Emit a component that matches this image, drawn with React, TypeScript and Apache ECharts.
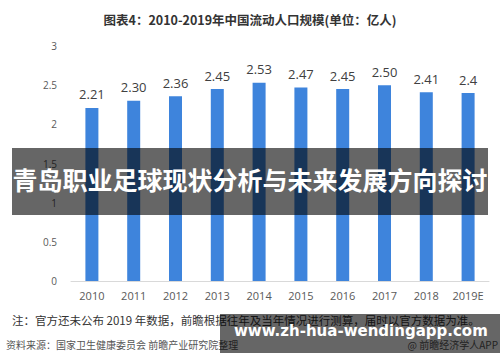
import React, { useEffect, useRef } from "react";
import * as echarts from "echarts";

const categories = ["2010", "2011", "2012", "2013", "2014", "2015", "2016", "2017", "2018", "2019E"];
const values = [2.21, 2.3, 2.36, 2.45, 2.53, 2.47, 2.45, 2.5, 2.41, 2.4];
const valueLabels = ["2.21", "2.30", "2.36", "2.45", "2.53", "2.47", "2.45", "2.50", "2.41", "2.4"];
const yTicks = [0, 0.5, 1, 1.5, 2, 2.5, 3];

const titleText = "图表4：2010-2019年中国流动人口规模(单位：亿人)";
const overlayText = "青岛职业足球现状分析与未来发展方向探讨";
const noteText = "注：官方还未公布 2019 年数据，前瞻根据往年及当年情况进行测算，届时以官方数据为准。";
const sourceText = "资料来源：国家卫生健康委员会 前瞻产业研究院整理";
const creditText = "@ 前瞻经济学人APP";
const urlText = "www.zh-hua-wendingapp.com";

export default function App() {
  const ref = useRef<HTMLDivElement>(null);
  useEffect(() => {
    if (!ref.current) return;
    const chart = echarts.init(ref.current, null, { renderer: "svg" });
    const font = '"Noto Sans CJK SC", "Open Sans", sans-serif';
    chart.setOption({
      animation: false,
      backgroundColor: "#ffffff",
      title: {
        text: titleText,
        left: "center",
        top: 8,
        textStyle: { fontSize: 12.5, fontWeight: "bold", color: "#333333", fontFamily: font },
      },
      grid: { left: 71, right: 11, top: 46, bottom: 81 },
      xAxis: {
        type: "category",
        data: categories,
        axisLine: { lineStyle: { color: "#d9d9d9" } },
        axisTick: { show: false },
        axisLabel: { color: "#595959", fontSize: 11, margin: 9, fontFamily: '"Open Sans", sans-serif' },
      },
      yAxis: {
        type: "value",
        min: 0,
        max: 3,
        interval: 0.5,
        axisLine: { show: false },
        axisTick: { show: false },
        splitLine: { show: false },
        axisLabel: {
          color: "#595959",
          fontSize: 10,
          margin: 14,
          fontFamily: '"Open Sans", sans-serif',
          formatter: (v: number) => (yTicks.includes(v) ? String(v) : ""),
        },
      },
      series: [
        {
          type: "bar",
          data: values,
          barWidth: 13,
          itemStyle: { color: "#3e84dc" },
          label: {
            show: true,
            position: "top",
            distance: 7,
            color: "#404040",
            fontSize: 13,
            fontFamily: '"Open Sans", sans-serif',
            formatter: (p: any) => valueLabels[p.dataIndex],
          },
        },
      ],
      graphic: [
        {
          type: "rect",
          left: 12,
          top: 148,
          shape: { width: 476, height: 67 },
          style: { fill: "rgba(0,0,0,0.6)" },
          z: 100,
        },
        {
          type: "text",
          left: "center",
          top: 166,
          style: {
            text: overlayText,
            fill: "#ffffff",
            font: `bold 25px ${font}`,
          },
          z: 101,
        },
        {
          type: "text",
          left: 12,
          top: 314,
          style: { text: noteText, fill: "#333333", font: `11.5px ${font}` },
          z: 50,
        },
        {
          type: "text",
          left: 6,
          top: 339,
          style: { text: sourceText, fill: "#555555", font: `10px ${font}` },
          z: 50,
        },
        {
          type: "text",
          right: 2,
          top: 339,
          style: { text: creditText, fill: "#555555", font: `10px ${font}` },
          z: 50,
        },
        {
          type: "rect",
          left: 220,
          top: 314,
          shape: { width: 280, height: 39 },
          style: { fill: "rgba(0,0,0,0.6)" },
          z: 100,
        },
        {
          type: "text",
          left: 234,
          top: 323,
          style: { text: urlText, fill: "#ffffff", font: `bold 15px "DejaVu Sans", sans-serif` },
          z: 101,
        },
      ],
    });
    return () => chart.dispose();
  }, []);
  return <div ref={ref} style={{ position: "fixed", left: 0, top: 0, width: 500, height: 362 }} />;
}
